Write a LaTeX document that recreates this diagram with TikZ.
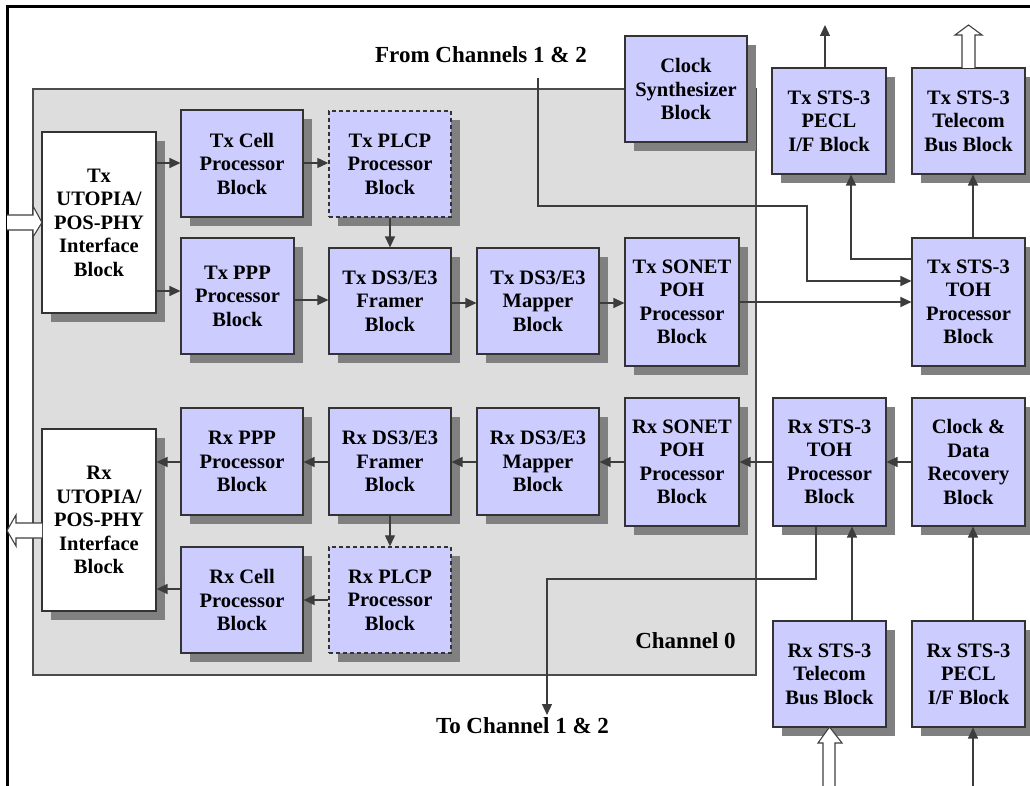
\documentclass[tikz,border=0pt]{standalone}
\usepackage{fontspec}
\setmainfont{Liberation Serif}
\usetikzlibrary{arrows.meta,shadows}
\definecolor{blkfill}{RGB}{204,204,255}
\definecolor{chbg}{RGB}{221,221,221}
\definecolor{shgray}{RGB}{128,128,128}
\definecolor{lnc}{RGB}{60,60,60}
\begin{document}
\begin{tikzpicture}[x=1pt,y=-1pt,
  blk/.style={draw=black!80, line width=1.1pt, fill=blkfill, align=center,
    inner sep=0pt, font=\fontsize{20.5}{23.5}\selectfont\bfseries,
    drop shadow={shadow xshift=9pt, shadow yshift=-9pt, fill=shgray, opacity=1}},
  wblk/.style={blk, fill=white},
  dblk/.style={blk, dashed, line width=1.4pt, dash pattern=on 4pt off 3pt},
  conn/.style={draw=lnc, line width=1.2pt, -{Triangle[length=11pt,width=10pt]}},
  hollow/.style={draw=black!75, line width=1.1pt, fill=white},
  lbl/.style={font=\fontsize{23}{26}\selectfont\bfseries, inner sep=0pt, anchor=base}
]
\useasboundingbox (0,0) rectangle (1030,786);
\fill[white] (0,0) rectangle (1030,786);
% outer frame (top and left)
\draw[line width=3pt, black] (7,790) -- (7,7) -- (1034,7);
% channel 0 background
\draw[fill=chbg, draw=black!70, line width=1.2pt] (33,89) rectangle (756,675);

% Tx blocks
\node[wblk, minimum width=114pt, minimum height=181pt] (txutopia) at (99,222.5) {Tx\\UTOPIA/\\POS-PHY\\Interface\\Block};
\node[blk, minimum width=122pt, minimum height=107pt] (txcell) at (242,163.5) {Tx Cell\\Processor\\Block};
\node[blk, minimum width=113pt, minimum height=116pt] (txppp) at (237.5,296) {Tx PPP\\Processor\\Block};
\node[dblk, minimum width=122pt, minimum height=106pt] (txplcp) at (390,164) {Tx PLCP\\Processor\\Block};
\node[blk, minimum width=122pt, minimum height=106pt] (txfr) at (390,301) {Tx DS3/E3\\Framer\\Block};
\node[blk, minimum width=122pt, minimum height=106pt] (txmap) at (538,301) {Tx DS3/E3\\Mapper\\Block};
\node[blk, minimum width=114pt, minimum height=128pt] (txpoh) at (682,302) {Tx SONET\\POH\\Processor\\Block};
\node[blk, minimum width=122pt, minimum height=106pt] (clks) at (686,89) {Clock\\Synthesizer\\Block};
\node[blk, minimum width=114pt, minimum height=106pt] (txpecl) at (829,121) {Tx STS-3\\PECL\\I/F Block};
\node[blk, minimum width=113pt, minimum height=106pt] (txtel) at (968.5,121) {Tx STS-3\\Telecom\\Bus Block};
\node[blk, minimum width=113pt, minimum height=128pt] (txtoh) at (968.5,302) {Tx STS-3\\TOH\\Processor\\Block};

% Rx blocks
\node[wblk, minimum width=114pt, minimum height=182pt] (rxutopia) at (99,520) {Rx\\UTOPIA/\\POS-PHY\\Interface\\Block};
\node[blk, minimum width=122pt, minimum height=107pt] (rxppp) at (242,461.5) {Rx PPP\\Processor\\Block};
\node[blk, minimum width=122pt, minimum height=106pt] (rxcell) at (242,600) {Rx Cell\\Processor\\Block};
\node[blk, minimum width=122pt, minimum height=107pt] (rxfr) at (390,461.5) {Rx DS3/E3\\Framer\\Block};
\node[dblk, minimum width=122pt, minimum height=106pt] (rxplcp) at (390,600) {Rx PLCP\\Processor\\Block};
\node[blk, minimum width=122pt, minimum height=107pt] (rxmap) at (538,461.5) {Rx DS3/E3\\Mapper\\Block};
\node[blk, minimum width=114pt, minimum height=128pt] (rxpoh) at (682,462) {Rx SONET\\POH\\Processor\\Block};
\node[blk, minimum width=113pt, minimum height=128pt] (rxtoh) at (829.5,462) {Rx STS-3\\TOH\\Processor\\Block};
\node[blk, minimum width=113pt, minimum height=128pt] (cdr) at (968.5,462) {Clock \&\\Data\\Recovery\\Block};
\node[blk, minimum width=113pt, minimum height=106pt] (rxtel) at (829.5,674) {Rx STS-3\\Telecom\\Bus Block};
\node[blk, minimum width=113pt, minimum height=106pt] (rxpecl) at (968.5,674) {Rx STS-3\\PECL\\I/F Block};

% labels
\node[lbl] (lfrom) at (481,63) {From Channels 1 \& 2};
\node[lbl] (lto) at (522.5,733) {To Channel 1 \& 2};
\node[lbl] (lch) at (685.5,648) {Channel 0};

% Tx connectors
\draw[conn] (txutopia.east |- 0,163) -- (txcell.west |- 0,163);
\draw[conn] (txutopia.east |- 0,291) -- (txppp.west |- 0,291);
\draw[conn] (txcell.east |- 0,163) -- (txplcp.west |- 0,163);
\draw[conn] (txppp.east |- 0,300) -- (txfr.west |- 0,300);
\draw[conn] (txfr.east |- 0,303) -- (txmap.west |- 0,303);
\draw[conn] (txmap.east |- 0,303) -- (txpoh.west |- 0,303);
\draw[conn] (txpoh.east |- 0,302) -- (txtoh.west |- 0,302);
\draw[conn] (txplcp.south) -- (txfr.north);
\coordinate (fromtop) at (538,78);
\draw[conn] (fromtop) -- (538,206) -- (807,206) -- (807,281) -- (txtoh.west |- 0,281);
\draw[conn] (txtoh.west |- 0,259) -| ([xshift=22pt]txpecl.south);
\draw[conn] ([xshift=4.5pt]txtoh.north) -- ([xshift=4.5pt]txtel.south);
\coordinate (pecltop) at (825,25);
\draw[conn] ([xshift=-4pt]txpecl.north) -- (pecltop);

% Rx connectors
\draw[conn] (rxppp.west |- 0,462) -- (rxutopia.east |- 0,462);
\draw[conn] (rxcell.west |- 0,589) -- (rxutopia.east |- 0,589);
\draw[conn] (rxfr.west |- 0,462) -- (rxppp.east |- 0,462);
\draw[conn] (rxmap.west |- 0,462) -- (rxfr.east |- 0,462);
\draw[conn] (rxpoh.west |- 0,462) -- (rxmap.east |- 0,462);
\draw[conn] (rxtoh.west |- 0,462) -- (rxpoh.east |- 0,462);
\draw[conn] (cdr.west |- 0,462) -- (rxtoh.east |- 0,462);
\draw[conn] (rxfr.south) -- (rxplcp.north);
\draw[conn] (rxplcp.west |- 0,600) -- (rxcell.east |- 0,600);
\draw[conn] ([xshift=22.5pt]rxtel.north) -- ([xshift=22.5pt]rxtoh.south);
\draw[conn] ([xshift=4.5pt]rxpecl.north) -- ([xshift=4.5pt]cdr.south);
\coordinate (peclin) at (973,786);
\draw[conn] (peclin) -- ([xshift=4.5pt]rxpecl.south);
\coordinate (tochan) at (547,715);
\draw[conn] ([xshift=-13.5pt]rxtoh.south) -- (816,579) -- (547,579) -- (tochan);

% hollow arrows
\draw[hollow] (7,215) -- (33,215) -- (33,206) -- (42,222.5) -- (33,237) -- (33,230) -- (7,230);
\draw[hollow] (42,523) -- (16,523) -- (16,515) -- (7,530.5) -- (16,546) -- (16,538) -- (42,538);
\draw[hollow] (962,68) -- (962,35) -- (955,35) -- (968.5,25) -- (982,35) -- (975,35) -- (975,68);
\draw[hollow] (823,786) -- (823,743) -- (818,743) -- (829.5,727) -- (842,743) -- (835,743) -- (835,786);
\end{tikzpicture}
\end{document}
